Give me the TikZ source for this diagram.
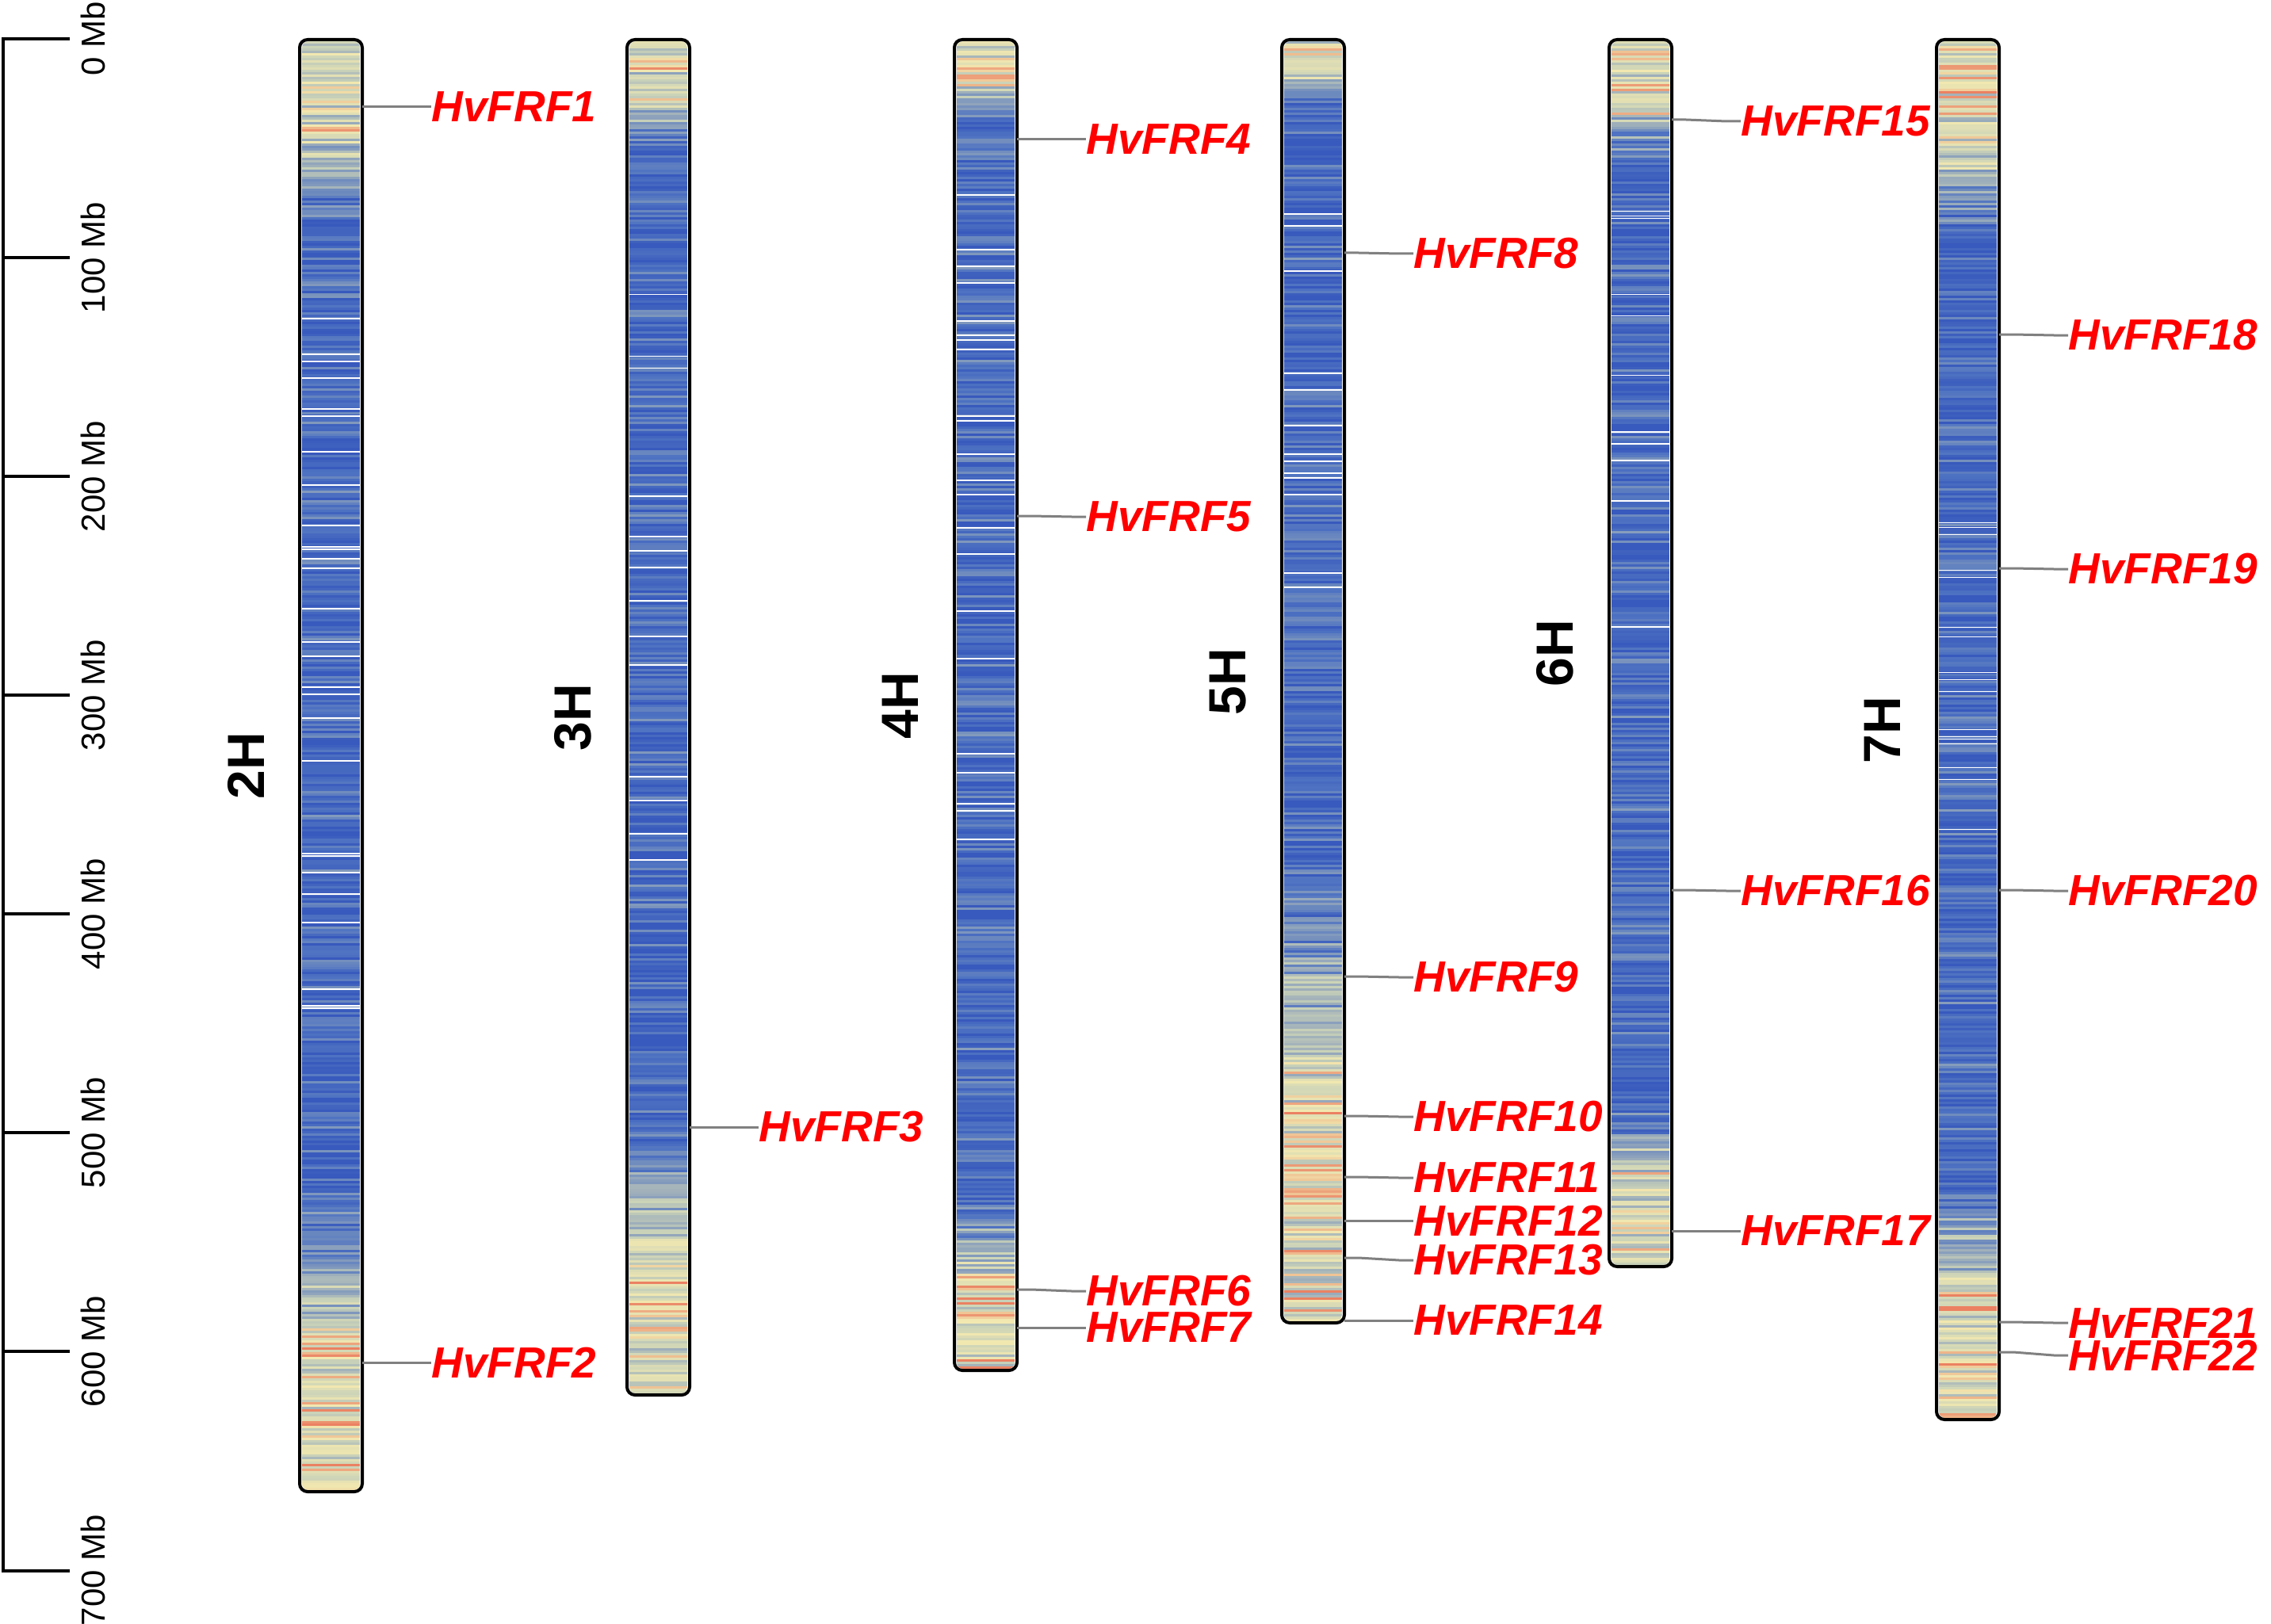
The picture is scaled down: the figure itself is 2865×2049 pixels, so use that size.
\documentclass[tikz,border=0pt]{standalone}
\usepackage{fontspec}
\setmainfont{Liberation Sans}
\definecolor{c0}{rgb}{0.22,0.35,0.74}
\definecolor{c1}{rgb}{0.31,0.45,0.76}
\definecolor{c2}{rgb}{0.48,0.58,0.74}
\definecolor{c3}{rgb}{0.64,0.70,0.73}
\definecolor{c4}{rgb}{0.80,0.83,0.72}
\definecolor{c5}{rgb}{0.95,0.91,0.69}
\definecolor{c6}{rgb}{0.92,0.50,0.38}
\definecolor{linkgray}{rgb}{0.50,0.50,0.50}
\definecolor{genered}{rgb}{1,0,0}
\tikzset{
  chrout/.style={draw=black, line width=2pt, rounded corners=5pt},
  axisline/.style={draw=black, line width=2pt},
  axlabel/.style={rotate=90, font=\fontsize{21}{24}\selectfont, inner sep=0},
  chrlabel/.style={rotate=90, font=\fontsize{33}{36}\selectfont\bfseries, inner sep=0},
  gene/.style={text=genered, font=\fontsize{27.5}{30}\selectfont\bfseries\itshape, inner sep=0, anchor=west},
  link/.style={draw=linkgray, line width=1.5pt, line join=round},
}
% #1 Lx, #2 bottom, #3 top heat length, #4 bottom heat length, #5 #6 white-line zone
\newcommand\chromobands[6]{%
  \begin{scope}
    \clip[rounded corners=4pt] (#1+5,52) rectangle (#1+78,#2-4);
    \pgfmathsetmacro\bandlen{#2-56}
    \pgfmathtruncatemacro\nb{round(\bandlen/3)}
    \pgfmathtruncatemacro\nbm{\nb-1}
    \pgfmathsetmacro\dh{\bandlen/\nb}
    \foreach \i in {0,...,\nbm}{
      \pgfmathsetmacro\tpos{(\i+0.5)/\nb}
      \pgfmathsetmacro\bump{max(0,min(1,2*(1-\tpos/#3)),min(1,2*(1-(1-\tpos)/#4)))}
      \pgfmathsetmacro\hval{max(0,min(0.999,0.12+0.62*\bump+(0.28+0.06*\bump)*(rnd+rnd-1)))}
      \pgfmathtruncatemacro\kidx{floor(\hval*6)}
      \pgfmathtruncatemacro\kidxb{\kidx+1}
      \pgfmathtruncatemacro\pct{(\hval*6-\kidx)*100}
      \colorlet{bandc}{c\kidxb!\pct!c\kidx}
      \pgfmathsetmacro\yy{52+\i*\dh}
      \fill[bandc] (#1+5,\yy) rectangle (#1+78,\yy+\dh+0.5);
      \pgfmathtruncatemacro\isw{(\tpos>#5)*(\tpos<#6)*(rnd<0.07)}
      \ifnum\isw=1 \fill[white] (#1+5,\yy+0.8) rectangle (#1+78,\yy+2.4);\fi
    }
  \end{scope}
  \draw[chrout] (#1+2,50) rectangle (#1+81,#2-2);
}
\begin{document}
\begin{tikzpicture}[x=0.5pt,y=-0.5pt]
\useasboundingbox (0,0) rectangle (2865,2049);
\pgfmathsetseed{4242}

% scale axis
\draw[axisline] (88,49) -- (4,49) -- (4,1982) -- (88,1982);
\foreach \k in {1,...,6}{
  \draw[axisline] (4,49+276*\k) -- (88,49+276*\k);
}
\foreach \k/\lab in {0/0 Mb,1/100 Mb,2/200 Mb,3/300 Mb,4/400 Mb,5/500 Mb,6/600 Mb,7/700 Mb}{
  \node[axlabel] (ax\k) at (117,49+276*\k) {\lab};
}

% chromosomes
\chromobands{376}{1884}{0.12}{0.20}{0.15}{0.67}
\chromobands{789}{1762}{0.08}{0.20}{0.18}{0.61}
\chromobands{1202}{1731}{0.06}{0.13}{0.11}{0.63}
\chromobands{1615}{1671}{0.05}{0.36}{0.08}{0.44}
\chromobands{2028}{1600}{0.10}{0.13}{0.13}{0.56}
\chromobands{2441}{1793}{0.14}{0.17}{0.33}{0.58}

% chromosome names
\node[chrlabel] (n2H) at (310,966) {2H};
\node[chrlabel] (n3H) at (723,905) {3H};
\node[chrlabel] (n4H) at (1136,890) {4H};
\node[chrlabel] (n5H) at (1549,860) {5H};
\node[chrlabel] (n6H) at (1962,824) {6H};
\node[chrlabel] (n7H) at (2375,921) {7H};

% genes: name / chromosome x / position on chromosome / label y
\foreach \g/\cx/\gy/\ly in {
  1/376/135/135, 2/376/1719/1719,
  3/789/1422/1422,
  4/1202/176/176, 5/1202/651/652, 6/1202/1627/1629, 7/1202/1675/1675,
  8/1615/319/320, 9/1615/1232/1233, 10/1615/1408/1409, 11/1615/1485/1486,
  12/1615/1540/1540, 13/1615/1587/1590, 14/1615/1666/1666,
  15/2028/151/153, 16/2028/1123/1124, 17/2028/1553/1553,
  18/2441/422/423, 19/2441/717/718, 20/2441/1123/1124,
  21/2441/1668/1669, 22/2441/1706/1710}{
  \coordinate (g\g) at (\cx+81,\gy);
  \node[gene] (l\g) at (\cx+168,\ly) {HvFRF\g};
  \draw[link] (g\g) -- ++(18,0) -- ([xshift=-9pt]l\g.west) -- (l\g.west);
}
\end{tikzpicture}
\end{document}
